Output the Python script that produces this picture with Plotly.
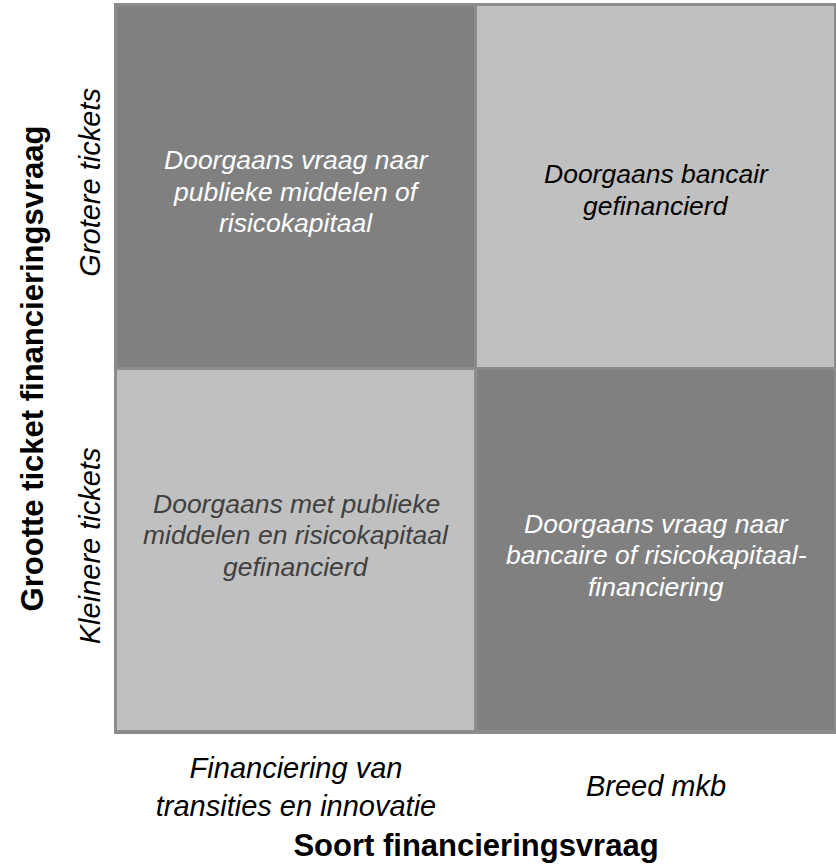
import plotly.graph_objects as go

# categories
soort = ["Financiering van<br>transities en innovatie", "Breed mkb"]
grootte = ["Kleinere tickets", "Grotere tickets"]

# 0 = light cell, 1 = dark cell (rows: bottom -> top)
shade = [[0, 1],
         [1, 0]]

cell_text = [
    ["Doorgaans met publieke<br>middelen en risicokapitaal<br>gefinancierd",
     "Doorgaans vraag naar<br>bancaire of risicokapitaal-<br>financiering"],
    ["Doorgaans vraag naar<br>publieke middelen of<br>risicokapitaal",
     "Doorgaans bancair<br>gefinancierd"],
]
text_colors = [["#404040", "white"], ["white", "black"]]
text_shift = [[15, -5], [-5, -3]]
LINE_GAP = 31.5

FONT = "Liberation Sans, Arial, sans-serif"

fig = go.Figure(
    go.Heatmap(
        z=shade,
        x=[0, 1],
        y=[0, 1],
        colorscale=[[0, "#c0c0c0"], [1, "#808080"]],
        showscale=False,
        hoverinfo="skip",
        xgap=3,
        ygap=3,
    )
)

# one annotation per text line so the line spacing matches the original
for r in range(2):
    for c in range(2):
        lines = cell_text[r][c].split("<br>")
        n = len(lines)
        for i, line in enumerate(lines):
            fig.add_annotation(
                x=c, y=r, text=line, showarrow=False,
                yshift=text_shift[r][c] + ((n - 1) / 2 - i) * LINE_GAP,
                font=dict(family=FONT, size=26.5, color=text_colors[r][c], style="italic"),
            )

fig.update_layout(
    width=836, height=865,
    margin=dict(l=116, r=0, t=5, b=133),
    plot_bgcolor="#8c8c8c",
    paper_bgcolor="white",
    font=dict(family=FONT, color="black"),
)

tick_font = dict(size=29, style="italic")

# first category label on the main x axis
fig.update_xaxes(
    tickvals=[0], ticktext=soort[:1], range=[-0.5, 1.5], automargin=False,
    showgrid=False, zeroline=False, ticks="", ticklabelstandoff=9,
    tickfont=tick_font,
    title=dict(text="<b>Soort financieringsvraag</b>", font=dict(size=31), standoff=14),
    showline=True, linecolor="#8c8c8c", linewidth=2, mirror=True,
)
# single-line label sits lower, centred on the two-line one
fig.update_layout(
    xaxis2=dict(
        overlaying="x", matches="x", side="bottom", anchor="y",
        tickvals=[1], ticktext=soort[1:], range=[-0.5, 1.5], automargin=False,
        showgrid=False, zeroline=False, ticks="", ticklabelstandoff=34,
        tickfont=tick_font, showline=False,
    )
)
fig.add_trace(go.Scatter(x=[], y=[], xaxis="x2", showlegend=False, hoverinfo="skip"))

fig.update_yaxes(
    tickvals=[0, 1], ticktext=grootte, range=[-0.5, 1.5], tickangle=-90, automargin=False,
    showgrid=False, zeroline=False, ticks="", ticklabelstandoff=2,
    tickfont=tick_font,
    title=dict(text="<b>Grootte ticket financieringsvraag</b>", font=dict(size=31), standoff=22),
    showline=True, linecolor="#8c8c8c", linewidth=2, mirror=True,
)

# drop the default page margin so the figure sits at the window's top-left corner
fig.write_html(
    "out.html",
    config={"displayModeBar": False},
    post_script="document.body.style.margin='0';",
)
